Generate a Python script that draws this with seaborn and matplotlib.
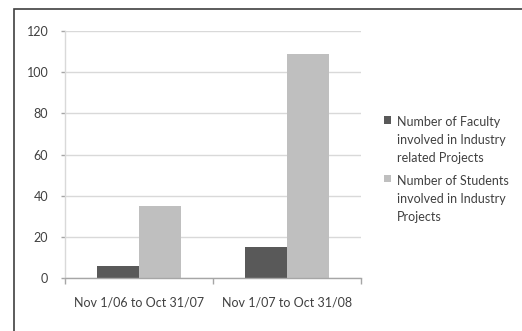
import matplotlib
matplotlib.use("Agg")
import matplotlib.pyplot as plt
from matplotlib.patches import Rectangle, Patch
import seaborn as sns
import pandas as pd

periods = ["Nov 1/06 to Oct 31/07", "Nov 1/07 to Oct 31/08"]
faculty = [6, 15]
students = [35, 109]
series_names = [
    "Number of Faculty\ninvolved in Industry\nrelated Projects",
    "Number of Students\ninvolved in Industry\nProjects",
]
colors = ["#595959", "#bfbfbf"]
yticks = [0, 20, 40, 60, 80, 100, 120]

df = pd.DataFrame({
    "period": periods * 2,
    "value": faculty + students,
    "series": [series_names[0]] * 2 + [series_names[1]] * 2,
})

sns.set_theme(style="white")
plt.rcParams["font.family"] = ["Lato", "DejaVu Sans"]

fig = plt.figure(figsize=(5.22, 3.31), dpi=100)
ax = fig.add_axes([65 / 522, 1 - 278 / 331, (360.7 - 65) / 522, (278 - 31) / 331])

sns.barplot(data=df, x="period", y="value", hue="series", palette=colors,
            width=0.57, gap=0, saturation=1, ax=ax, legend=False,
            edgecolor="none", linewidth=0)

ax.set_xlim(-0.5, 1.5)
ax.set_ylim(0, 120)
ax.set_yticks(yticks)
ax.set_xlabel("")
ax.set_ylabel("")
ax.yaxis.grid(True, color="#d9d9d9", linewidth=1)
ax.set_axisbelow(True)

for side in ["top", "right"]:
    ax.spines[side].set_visible(False)
ax.spines["left"].set_color("#d9d9d9")
ax.spines["left"].set_linewidth(1)
ax.spines["bottom"].set_color("#a6a6a6")
ax.spines["bottom"].set_linewidth(1)

ax.tick_params(axis="y", length=3, width=1, color="#a6a6a6", pad=9,
               labelsize=9, labelcolor="#404040", left=True)
ax.tick_params(axis="x", length=0, pad=13, labelsize=9, labelcolor="#404040")
ax.set_xticks([-0.5, 0.5, 1.5], minor=True)
ax.tick_params(axis="x", which="minor", length=4, width=1, color="#a6a6a6",
               bottom=True)

handles = [Patch(facecolor=c, edgecolor="none") for c in colors]
leg = fig.legend(handles, series_names, loc="upper left",
                 bbox_to_anchor=(384 / 522, 1 - 116 / 331), frameon=False,
                 fontsize=9, labelcolor="#404040", handlelength=0.55,
                 handleheight=0.55, handletextpad=0.5, labelspacing=0.85,
                 borderaxespad=0, borderpad=0)
for t in leg.get_texts():
    t.set_linespacing(1.6)
# put each legend square level with the first line of its label
for column in leg._legend_handle_box.get_children():
    for item in column.get_children():
        item.align = "top"

# chart-area frame, clipped by the canvas on the right and bottom
fig.patches.append(Rectangle((14 / 522, -0.1), 1.2, 1 - 9 / 331 + 0.1,
                             transform=fig.transFigure, fill=False,
                             edgecolor="#404040", linewidth=1.2))

fig.savefig("out.png", dpi=100)
